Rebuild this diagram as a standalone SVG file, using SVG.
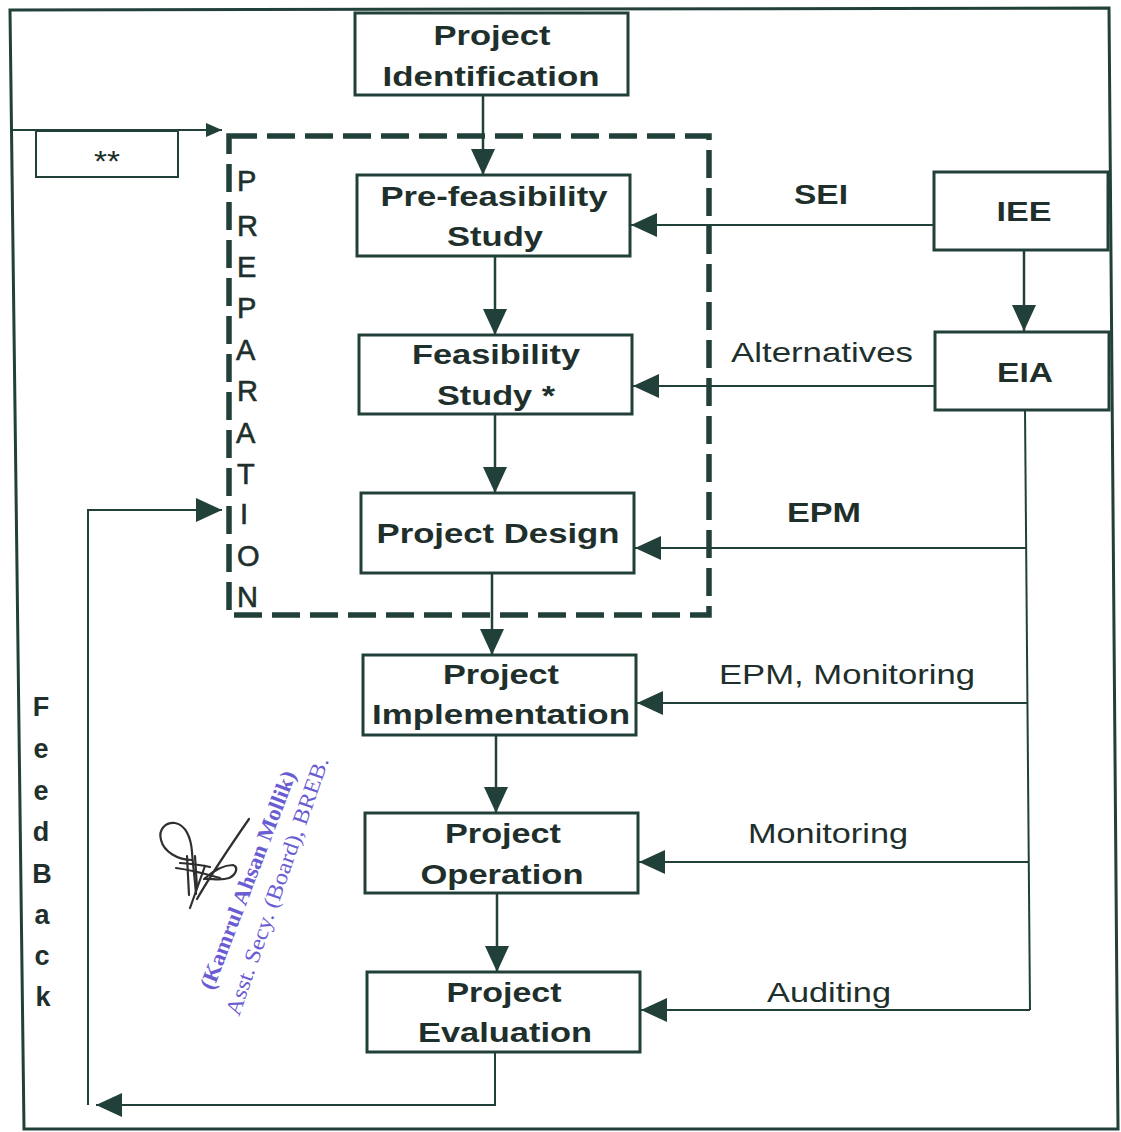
<svg xmlns="http://www.w3.org/2000/svg" width="1121" height="1132" viewBox="0 0 1121 1132">
  <style>
    .frame { fill: none; stroke: #22403a; stroke-width: 3; }
    .box { fill: #ffffff; stroke: #22403a; stroke-width: 3; }
    .note { fill: #ffffff; stroke: #22403a; stroke-width: 2; }
    .prep { fill: none; stroke: #22403a; stroke-width: 5.5; stroke-dasharray: 28 10; }
    .flow { fill: none; stroke: #22403a; stroke-width: 2.5; }
    .feed { fill: none; stroke: #22403a; stroke-width: 2; }
    .title { font-family: "Liberation Sans", Arial, sans-serif; font-weight: bold; font-size: 28px; fill: #1e2f2c; text-anchor: middle; }
    .lbl { font-family: "Liberation Sans", Arial, sans-serif; font-size: 28px; fill: #1e2f2c; text-anchor: middle; }
    .lblb { font-family: "Liberation Sans", Arial, sans-serif; font-weight: bold; font-size: 28px; fill: #1e2f2c; text-anchor: middle; }
    .vert { font-family: "Liberation Sans", Arial, sans-serif; font-size: 29px; fill: #1e2f2c; stroke: #1e2f2c; stroke-width: 0.6; }
    .fb { font-family: "Liberation Sans", Arial, sans-serif; font-weight: bold; font-size: 27px; fill: #1e2f2c; text-anchor: middle; }
    .stamp { font-family: "Liberation Serif", "Times New Roman", serif; font-size: 22px; fill: #6a5cd2; }
    .sig { fill: none; stroke: #2f2f2f; stroke-width: 2.2; stroke-linecap: round; stroke-linejoin: round; }
  </style>
  <defs>
    <marker id="ah" viewBox="0 0 26 24" markerWidth="26" markerHeight="24" refX="26" refY="12" orient="auto" markerUnits="userSpaceOnUse">
      <path d="M0,0 L26,12 L0,24 Z" fill="#22403a"/>
    </marker>
    <marker id="ahs" viewBox="0 0 16 14" markerWidth="16" markerHeight="14" refX="16" refY="7" orient="auto" markerUnits="userSpaceOnUse">
      <path d="M0,0 L16,7 L0,14 Z" fill="#22403a"/>
    </marker>
  </defs>

  <rect width="1121" height="1132" fill="#ffffff"/>

  <!-- page frame -->
  <path class="frame" d="M10,10 L1109,8 L1118,1129 L24,1129 Z"/>

  <!-- preparation stage (dashed enclosure) -->
  <g id="preparation">
    <rect class="prep" x="229" y="136" width="480" height="479"/>
    <text class="vert" x="237" y="191">P</text>
    <text class="vert" x="237" y="236">R</text>
    <text class="vert" x="237" y="277">E</text>
    <text class="vert" x="237" y="318">P</text>
    <text class="vert" x="236" y="360">A</text>
    <text class="vert" x="237" y="401">R</text>
    <text class="vert" x="236" y="443">A</text>
    <text class="vert" x="237" y="484">T</text>
    <text class="vert" x="240" y="524">I</text>
    <text class="vert" x="237" y="566">O</text>
    <text class="vert" x="237" y="607">N</text>
  </g>

  <!-- connectors -->
  <g id="connectors">
    <path class="flow" d="M483,95 V175" marker-end="url(#ah)"/>
    <path class="flow" d="M495,257 V335" marker-end="url(#ah)"/>
    <path class="flow" d="M495,414 V493" marker-end="url(#ah)"/>
    <path class="flow" d="M492,573 V655" marker-end="url(#ah)"/>
    <path class="flow" d="M496,735 V813" marker-end="url(#ah)"/>
    <path class="flow" d="M497,893 V972" marker-end="url(#ah)"/>
    <path class="flow" d="M1024,250 V331" marker-end="url(#ah)"/>
    <path class="feed" d="M934,225 H631" marker-end="url(#ah)"/>
    <path class="feed" d="M935,386 H633" marker-end="url(#ah)"/>
    <path class="feed" d="M1025,410 L1030,1010"/>
    <path class="feed" d="M1026,548 H635" marker-end="url(#ah)"/>
    <path class="feed" d="M1027,703 H637" marker-end="url(#ah)"/>
    <path class="feed" d="M1029,862 H639" marker-end="url(#ah)"/>
    <path class="feed" d="M1030,1010 H641" marker-end="url(#ah)"/>
    <path class="feed" d="M495,1052 V1105 H96" marker-end="url(#ah)"/>
    <path class="feed" d="M88,1105 V510 H222" marker-end="url(#ah)"/>
    <path class="feed" d="M10,130 H222" marker-end="url(#ahs)"/>
  </g>

  <!-- connector labels -->
  <g id="labels">
    <text class="lblb" x="821" y="204" textLength="54" lengthAdjust="spacingAndGlyphs">SEI</text>
    <text class="lbl" x="822" y="362" textLength="182" lengthAdjust="spacingAndGlyphs">Alternatives</text>
    <text class="lblb" x="824" y="522" textLength="74" lengthAdjust="spacingAndGlyphs">EPM</text>
    <text class="lbl" x="847" y="684" textLength="256" lengthAdjust="spacingAndGlyphs">EPM, Monitoring</text>
    <text class="lbl" x="828" y="843" textLength="160" lengthAdjust="spacingAndGlyphs">Monitoring</text>
    <text class="lbl" x="829" y="1002" textLength="124" lengthAdjust="spacingAndGlyphs">Auditing</text>
  </g>

  <!-- outside input -->
  <g id="note-box">
    <rect class="note" x="36" y="131" width="142" height="46"/>
    <text class="lbl" x="107" y="171" style="font-size:30px" textLength="26" lengthAdjust="spacingAndGlyphs">**</text>
  </g>

  <g id="project-identification">
    <rect class="box" x="355" y="13" width="273" height="82"/>
    <text class="title" x="492" y="45" textLength="117" lengthAdjust="spacingAndGlyphs">Project</text>
    <text class="title" x="491" y="86" textLength="217" lengthAdjust="spacingAndGlyphs">Identification</text>
  </g>

  <g id="pre-feasibility-study">
    <rect class="box" x="357" y="175" width="273" height="81"/>
    <text class="title" x="494" y="206" textLength="227" lengthAdjust="spacingAndGlyphs">Pre-feasibility</text>
    <text class="title" x="495" y="246" textLength="96" lengthAdjust="spacingAndGlyphs">Study</text>
  </g>

  <g id="feasibility-study">
    <rect class="box" x="359" y="335" width="273" height="79"/>
    <text class="title" x="496" y="364" textLength="168" lengthAdjust="spacingAndGlyphs">Feasibility</text>
    <text class="title" x="496" y="405" textLength="118" lengthAdjust="spacingAndGlyphs">Study *</text>
  </g>

  <g id="project-design">
    <rect class="box" x="361" y="493" width="273" height="80"/>
    <text class="title" x="498" y="543" textLength="243" lengthAdjust="spacingAndGlyphs">Project Design</text>
  </g>

  <g id="project-implementation">
    <rect class="box" x="363" y="655" width="273" height="80"/>
    <text class="title" x="501" y="684" textLength="116" lengthAdjust="spacingAndGlyphs">Project</text>
    <text class="title" x="501" y="724" textLength="258" lengthAdjust="spacingAndGlyphs">Implementation</text>
  </g>

  <g id="project-operation">
    <rect class="box" x="365" y="813" width="273" height="80"/>
    <text class="title" x="503" y="843" textLength="116" lengthAdjust="spacingAndGlyphs">Project</text>
    <text class="title" x="502" y="884" textLength="163" lengthAdjust="spacingAndGlyphs">Operation</text>
  </g>

  <g id="project-evaluation">
    <rect class="box" x="367" y="972" width="273" height="80"/>
    <text class="title" x="504" y="1002" textLength="115" lengthAdjust="spacingAndGlyphs">Project</text>
    <text class="title" x="505" y="1042" textLength="174" lengthAdjust="spacingAndGlyphs">Evaluation</text>
  </g>

  <g id="iee">
    <rect class="box" x="934" y="172" width="174" height="78"/>
    <text class="title" x="1024" y="221" textLength="55" lengthAdjust="spacingAndGlyphs">IEE</text>
  </g>

  <g id="eia">
    <rect class="box" x="935" y="332" width="174" height="78"/>
    <text class="title" x="1025" y="382" textLength="56" lengthAdjust="spacingAndGlyphs">EIA</text>
  </g>

  <!-- feedback caption, stacked letters -->
  <g id="feedback-caption">
    <text class="fb" x="41" y="716">F</text>
    <text class="fb" x="41" y="758">e</text>
    <text class="fb" x="41" y="800">e</text>
    <text class="fb" x="41" y="841">d</text>
    <text class="fb" x="42" y="883">B</text>
    <text class="fb" x="42" y="924">a</text>
    <text class="fb" x="42" y="965">c</text>
    <text class="fb" x="43" y="1006">k</text>
  </g>

  <!-- signature and rubber stamp -->
  <g id="signature">
    <path class="sig" d="M192,860 C178,860 164,852 161,840 C158,829 166,822 175,823 C186,825 191,838 192,852 C193,866 195,880 196,894"/>
    <path class="sig" d="M176,868 C192,870 206,874 220,878 M180,863 C192,864 201,865 210,867"/>
    <path class="sig" d="M187,856 L189,895 M195,856 L197,888"/>
    <path class="sig" d="M204,879 C213,871 223,865 233,865 C239,867 236,875 229,878 C220,881 211,878 204,879"/>
    <path class="sig" d="M197,899 C212,873 231,845 249,819"/>
    <path class="sig" d="M205,866 L190,908"/>
    <text class="stamp" x="0" y="0" font-weight="bold" textLength="232" lengthAdjust="spacingAndGlyphs" transform="translate(213,991) rotate(-69)">(Kamrul Ahsan Mollik)</text>
    <text class="stamp" x="0" y="0" textLength="272" lengthAdjust="spacingAndGlyphs" transform="translate(239,1017) rotate(-70.7)">Asst. Secy. (Board), BREB.</text>
  </g>
</svg>
